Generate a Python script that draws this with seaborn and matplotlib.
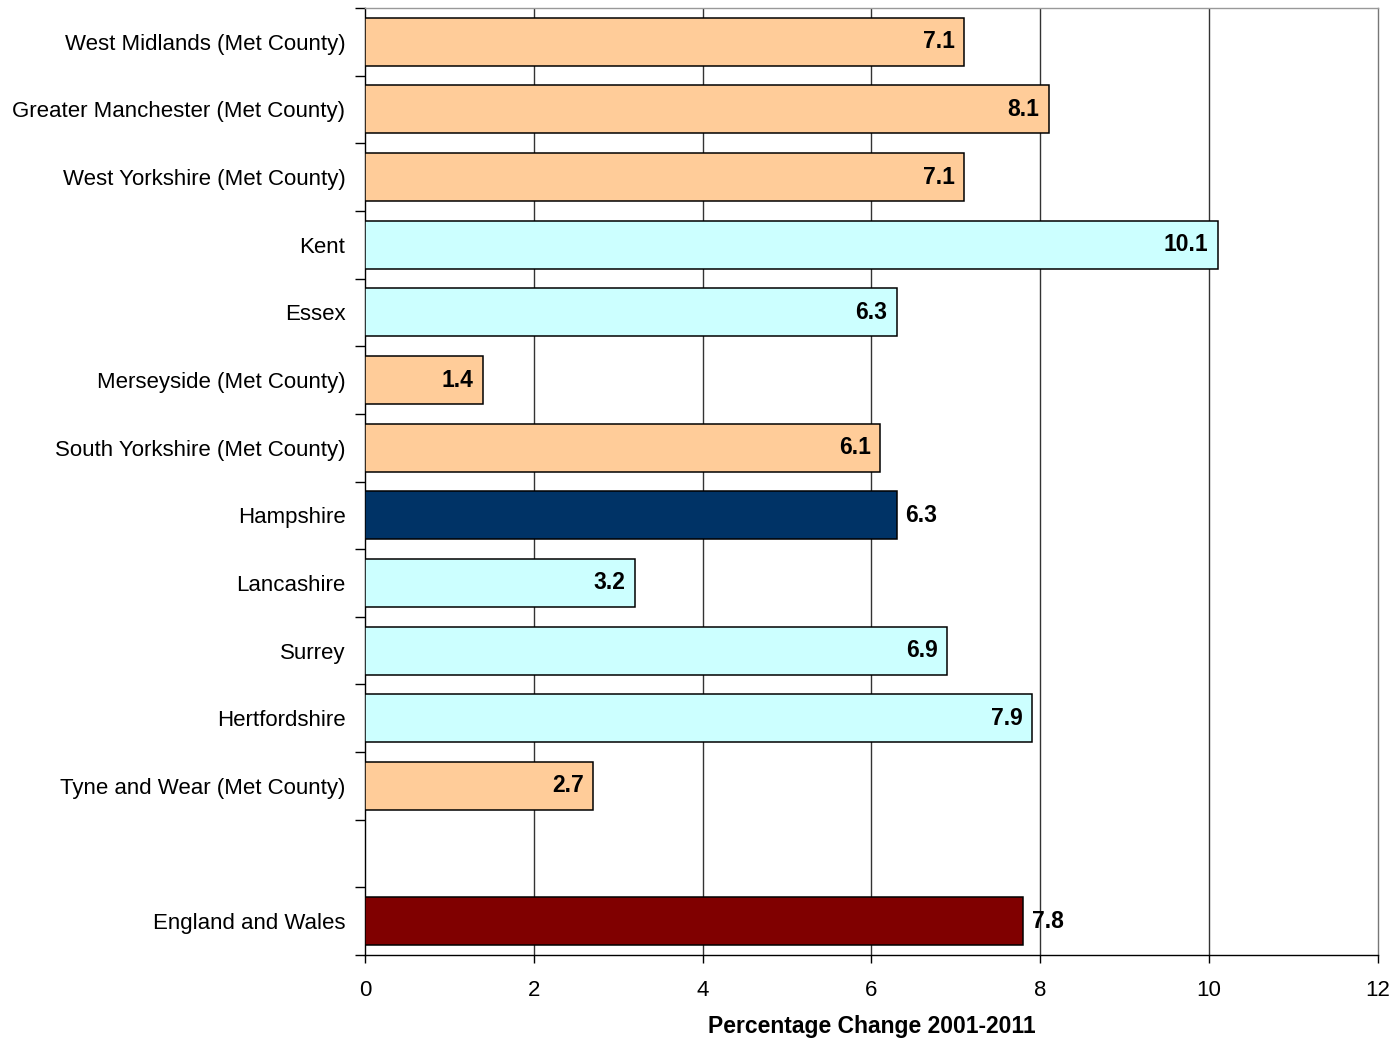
import matplotlib
matplotlib.use("Agg")
import matplotlib.pyplot as plt
import seaborn as sns
import pandas as pd
import numpy as np

categories = [
    "West Midlands (Met County)",
    "Greater Manchester (Met County)",
    "West Yorkshire (Met County)",
    "Kent",
    "Essex",
    "Merseyside (Met County)",
    "South Yorkshire (Met County)",
    "Hampshire",
    "Lancashire",
    "Surrey",
    "Hertfordshire",
    "Tyne and Wear (Met County)",
    " ",
    "England and Wales",
]
values = [7.1, 8.1, 7.1, 10.1, 6.3, 1.4, 6.1, 6.3, 3.2, 6.9, 7.9, 2.7, np.nan, 7.8]
groups = ["Met", "Met", "Met", "Shire", "Shire", "Met", "Met", "Hampshire",
          "Shire", "Shire", "Shire", "Met", "Met", "National"]
label_text = ["7.1", "8.1", "7.1", "10.1", "6.3", "1.4", "6.1", "6.3",
              "3.2", "6.9", "7.9", "2.7", "", "7.8"]
outside_labels = {"Hampshire", "England and Wales"}
xticks = [0, 2, 4, 6, 8, 10, 12]

palette = {"Met": "#FFCC99", "Shire": "#CCFFFF", "Hampshire": "#003366", "National": "#800000"}

df = pd.DataFrame({"category": categories, "value": values, "group": groups})

sns.set_style("white")
plt.rcParams["font.family"] = ["Liberation Sans", "DejaVu Sans"]
plt.rcParams["text.color"] = "black"
plt.rcParams["xtick.color"] = "black"
plt.rcParams["ytick.color"] = "black"
plt.rcParams["axes.labelcolor"] = "black"

fig = plt.figure(figsize=(13.95, 10.41), dpi=100)
ax = fig.add_axes([0.2616, 0.0826, 0.9878 - 0.2616, 0.9923 - 0.0826])

sns.barplot(data=df, x="value", y="category", hue="group", palette=palette,
            orient="h", order=categories, dodge=False, legend=False,
            width=0.71, edgecolor="black", linewidth=1.1, saturation=1,
            ax=ax, zorder=3)

ax.set_xlim(0, 12)
ax.set_ylim(len(categories) - 0.5, -0.5)
ax.set_xticks(xticks)
ax.set_xticklabels([str(t) for t in xticks], fontsize=16)
ax.tick_params(axis="x", direction="out", length=6, width=1, pad=12, bottom=True,
               colors="black")

ax.set_yticks(range(len(categories)))
ax.set_yticklabels(categories, fontsize=16)
ax.tick_params(axis="y", which="major", length=0, pad=14, colors="black")
ax.set_yticks(np.arange(-0.5, len(categories), 1.0), minor=True)
ax.tick_params(axis="y", which="minor", direction="out", length=7, width=1, left=True)

for x in xticks[1:-1]:
    ax.axvline(x, color="#333333", lw=1, zorder=1)

for s in ["left", "bottom"]:
    ax.spines[s].set_color("black")
    ax.spines[s].set_linewidth(1)
ax.spines["right"].set_color("#777777")
ax.spines["right"].set_linewidth(1)
ax.spines["top"].set_color("#999999")
ax.spines["top"].set_linewidth(1)

for i, (cat, val, txt) in enumerate(zip(categories, values, label_text)):
    if not txt:
        continue
    if cat in outside_labels:
        ax.text(val + 0.1, i, txt, ha="left", va="center", fontsize=16.5,
                fontweight="bold", color="black", zorder=5)
    else:
        ax.text(val - 0.11, i, txt, ha="right", va="center", fontsize=16.5,
                fontweight="bold", color="black", zorder=5)

ax.set_ylabel("")
ax.set_xlabel("Percentage Change 2001-2011", fontsize=16.5, fontweight="bold",
              labelpad=10, color="black")

fig.savefig("out.png", dpi=100)
